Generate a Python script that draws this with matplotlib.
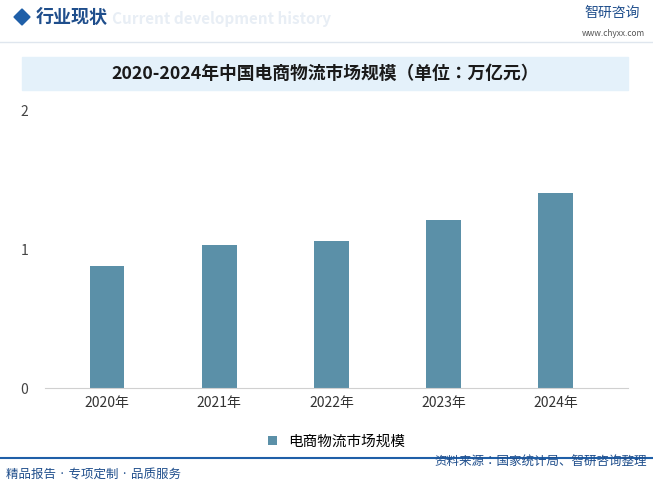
import matplotlib.pyplot as plt
from matplotlib.patches import Rectangle, Polygon

plt.rcParams['font.family'] = ['Noto Sans CJK JP', 'Noto Sans CJK SC', 'DejaVu Sans']

years = ['2020年', '2021年', '2022年', '2023年', '2024年']
values = [0.88, 1.03, 1.06, 1.21, 1.40]
series_name = '电商物流市场规模'
title = '2020-2024年中国电商物流市场规模（单位：万亿元）'

W, H = 653, 495
fig = plt.figure(figsize=(W / 100, H / 100), dpi=100)

# header
fig.patches.append(Polygon([(14 / W, 1 - 17 / H), (22 / W, 1 - 9 / H), (30 / W, 1 - 17 / H), (22 / W, 1 - 25 / H)],
                           closed=True, transform=fig.transFigure, color='#1f5fa8'))
fig.text(112 / W, 1 - 19 / H, 'Current development history', fontsize=11, fontweight='bold', color='#e8eef5', va='center')
fig.text(36 / W, 1 - 17 / H, '行业现状', fontsize=13, fontweight='bold', color='#1f4e8c', va='center')
fig.text(584 / W, 1 - 13 / H, '智研咨询', fontsize=10, color='#1f4e8c', va='center')
fig.text(645 / W, 1 - 33 / H, 'www.chyxx.com', fontsize=6, color='#555555', va='center', ha='right')
fig.lines.append(plt.Line2D([0, 1], [1 - 42 / H, 1 - 42 / H], transform=fig.transFigure, color='#dfe6ee', lw=1))

# title band
fig.patches.append(Rectangle((22 / W, 1 - 90 / H), 606 / W, 33 / H, transform=fig.transFigure,
                             color='#e4f1fa', zorder=0))
fig.text(325 / W, 1 - 74 / H, title, fontsize=12.8, fontweight='bold', color='#1a1a1a', ha='center', va='center')

ax = fig.add_axes([45 / W, 1 - 388 / H, 583 / W, 278 / H])
ax.bar(years, values, width=0.31, color='#5b90a8', label=series_name)
ax.set_ylim(0, 2)
ax.set_yticks([0, 1, 2])
ax.set_xlim(-0.553, 4.643)
for s in ['top', 'right', 'left']:
    ax.spines[s].set_visible(False)
ax.spines['bottom'].set_color('#d0d0d0')
ax.tick_params(axis='y', length=0, labelsize=10, colors='#444444', pad=12)
ax.tick_params(axis='x', length=0, labelsize=10, colors='#333333', pad=6)
ax.legend(loc='upper center', bbox_to_anchor=(0.5, -0.12), frameon=False, fontsize=10.5,
          handlelength=0.6, handleheight=0.6)

# footer
fig.lines.append(plt.Line2D([0, 1], [1 - 458 / H, 1 - 458 / H], transform=fig.transFigure, color='#1f5fa8', lw=1.5))
fig.text(6 / W, 1 - 475 / H, '精品报告 · 专项定制 · 品质服务', fontsize=9, color='#1f4e8c', va='center')
fig.text(647 / W, 1 - 462 / H, '资料来源：国家统计局、智研咨询整理', fontsize=9, color='#1f4e8c', va='center', ha='right')

fig.savefig('out.png', dpi=100)
